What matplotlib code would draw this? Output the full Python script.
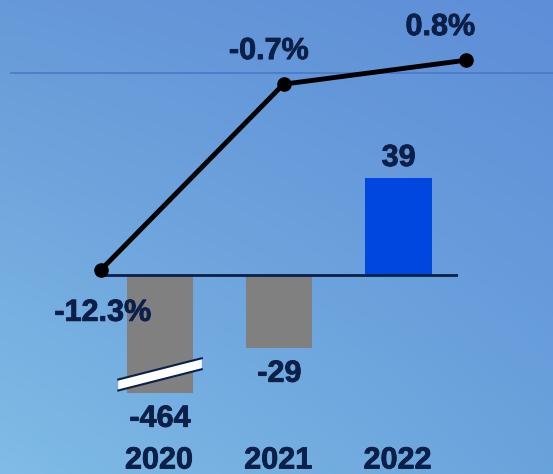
import numpy as np
import matplotlib
matplotlib.use("Agg")
import matplotlib.pyplot as plt
from matplotlib.patches import Polygon
import matplotlib.patheffects as pe

# ---- data ----
years = ["2020", "2021", "2022"]
bar_values = [-464, -29, 39]
bar_colors = ["#808080", "#808080", "#0047e0"]
pct_values = [-12.3, -0.7, 0.8]
pct_labels = ["-12.3%", "-0.7%", "0.8%"]
bar_break_at = -47  # displayed length of the broken 2020 bar

W, H = 553, 474
fig = plt.figure(figsize=(W / 100, H / 100), dpi=100)
plt.rcParams['font.family'] = ['Liberation Sans', 'DejaVu Sans']
navy = "#0b2049"
peff = [pe.withStroke(linewidth=0.6, foreground=navy)]

# ---- background gradient ----
bg = fig.add_axes([0, 0, 1, 1])
bg.set_axis_off()
tl = np.array([0x66, 0x99, 0xd8]) / 255
tr = np.array([0x5e, 0x8e, 0xd8]) / 255
bl = np.array([0x80, 0xbc, 0xe6]) / 255
br = np.array([0x6a, 0xa3, 0xdc]) / 255
u = np.linspace(0, 1, 200)[None, :, None]
v = np.linspace(0, 1, 200)[:, None, None]
img = (1 - v) * ((1 - u) * tl + u * tr) + v * ((1 - u) * bl + u * br)
bg.imshow(img, aspect='auto', extent=[0, 1, 0, 1], origin='upper')
bg.set_xlim(0, 1)
bg.set_ylim(0, 1)
# thin 0% reference line
bg.plot([11 / W, 1], [1 - 73 / H, 1 - 73 / H], color="#4a78c8", lw=1.2)

# ---- bar axes ----
px_left, px_right = 100.4, 458.2
axb = fig.add_axes([px_left / W, 0, (px_right - px_left) / W, 1])
axb.set_axis_off()
axb.set_xlim(-0.5, 2.5)
axb.set_ylim(-(H - 275) / 2.5, 275 / 2.5)
x = np.arange(len(years))
shown = [max(v, bar_break_at) for v in bar_values]
axb.bar(x, shown, width=0.555, color=bar_colors, zorder=2)
axb.axhline(0, color=navy, lw=2, zorder=3)

# break mark on first bar
cx = x[0]
dy0, dy1 = -44.0, -35.5
th = 4.4
ex0, ex1 = cx - 0.35, cx + 0.35
poly = Polygon([[ex0, dy0 - th / 2], [ex1, dy1 - th / 2], [ex1, dy1 + th / 2], [ex0, dy0 + th / 2]],
               closed=True, facecolor="white", edgecolor="none", zorder=4)
axb.add_patch(poly)
axb.plot([ex0, ex1], [dy0 - th / 2, dy1 - th / 2], color=navy, lw=1.5, zorder=5)
axb.plot([ex0, ex1], [dy0 + th / 2, dy1 + th / 2], color=navy, lw=1.5, zorder=5)

fs = 22
# value labels
for xi, v, s in zip(x, bar_values, shown):
    if v >= 0:
        yy = s + 7.8
    else:
        yy = s - 10.5
    axb.text(xi, yy, f"{v}", ha='center', va='center', fontsize=fs,
             fontweight='bold', color=navy, path_effects=peff)
# year labels
for xi, yr in zip(x, years):
    axb.text(xi - 0.01, -74.2, yr, ha='center', va='center', fontsize=fs,
             fontweight='bold', color=navy, path_effects=peff)

# ---- line axes ----
axl = fig.add_axes([0, 0, 1, 1])
axl.set_axis_off()
axl.patch.set_alpha(0)
axl.set_xlim(-101 / 182.5, (W - 101) / 182.5)
axl.set_ylim(-(H - 73) / 16, 73 / 16)
xl = np.arange(len(pct_values))
axl.plot(xl, pct_values, color='black', lw=3.5, marker='o', markersize=9.5, zorder=6)
offsets = [(0.01, -2.69), (-0.08, 2.07), (-0.14, 2.07)]
for xi, v, lab, (dx, dy) in zip(xl, pct_values, pct_labels, offsets):
    axl.text(xi + dx, v + dy, lab, ha='center', va='center', fontsize=fs,
             fontweight='bold', color=navy, path_effects=peff)

fig.savefig("out.png", dpi=100)
